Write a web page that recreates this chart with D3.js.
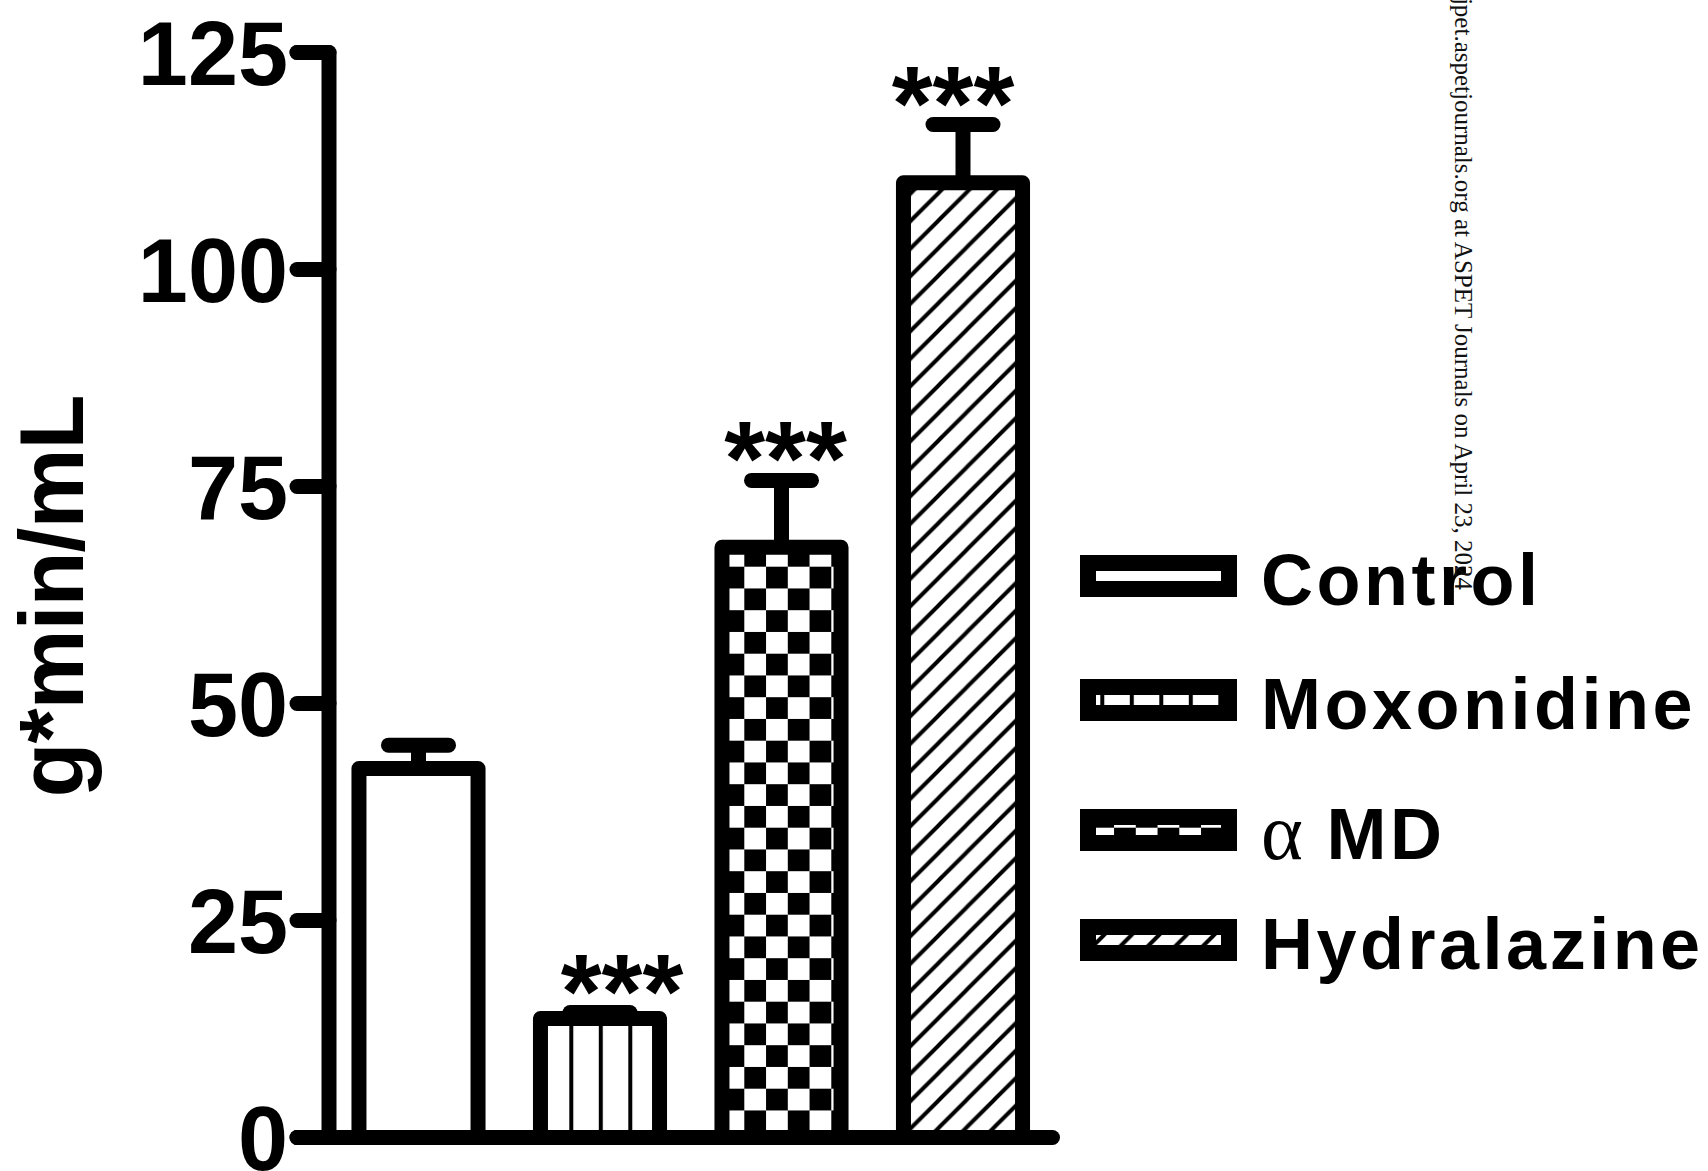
<!DOCTYPE html>
<html>
<head>
<meta charset="utf-8">
<script src="https://cdn.jsdelivr.net/npm/d3@7"></script>
<style>
  html, body { margin: 0; padding: 0; background: #fff; }
  svg { display: block; }
</style>
</head>
<body>
<svg id="chart" width="1708" height="1171"></svg>
<script>
// ---- data ----
const groups = ["Control", "Moxonidine", "α MD", "Hydralazine"];
const means = [42.5, 13.7, 68.0, 110.0];
const sems = [2.7, 0.7, 7.7, 6.7];
const sigLabels = ["", "***", "***", "***"];
const yTicks = [0, 25, 50, 75, 100, 125];
const yTitle = "g*min/mL";
const sourceNote = "jpet.aspetjournals.org at ASPET Journals on April 23, 2024";

// ---- layout / style ----
const W = 1708, H = 1171;
const SANS = "'Liberation Sans', Arial, Helvetica, sans-serif";
const SERIF = "'Liberation Serif', 'Times New Roman', serif";
const LW = 15;                                 // heavy outline weight
const fills = ["#fff", "url(#stripes)", "url(#checks)", "url(#hatch)"];
const starNudge = [0, 22, 4, -10];             // horizontal nudge of the *** marks
const legendRowY = [576, 700, 830, 940];       // legend row centres

const svg = d3.select("#chart");

// fill patterns
const defs = svg.append("defs");
const stripes = defs.append("pattern").attr("id", "stripes")
  .attr("patternUnits", "userSpaceOnUse")
  .attr("x", 598.8).attr("y", 0).attr("width", 29.5).attr("height", 10);
stripes.append("rect").attr("width", 29.5).attr("height", 10).attr("fill", "#fff");
stripes.append("rect").attr("x", 0).attr("width", 4).attr("height", 10).attr("fill", "#000");

const cell = 21.75;
const checks = defs.append("pattern").attr("id", "checks")
  .attr("patternUnits", "userSpaceOnUse")
  .attr("x", 744.3).attr("y", 566.7).attr("width", 2 * cell).attr("height", 2 * cell);
checks.append("rect").attr("width", 2 * cell).attr("height", 2 * cell).attr("fill", "#fff");
checks.append("rect").attr("x", cell).attr("y", 0).attr("width", cell).attr("height", cell).attr("fill", "#000");
checks.append("rect").attr("x", 0).attr("y", cell).attr("width", cell).attr("height", cell).attr("fill", "#000");

const hs = 27.5;
const hatch = defs.append("pattern").attr("id", "hatch")
  .attr("patternUnits", "userSpaceOnUse")
  .attr("x", 4).attr("y", 0).attr("width", hs).attr("height", hs);
hatch.append("rect").attr("width", hs).attr("height", hs).attr("fill", "#fff");
hatch.append("path")
  .attr("d", `M-3,${hs + 3}L${hs + 3},-3M-3,3L3,-3M${hs - 3},${hs + 3}L${hs + 3},${hs - 3}`)
  .attr("stroke", "#000").attr("stroke-width", 4).attr("fill", "none");

// scales
const y = d3.scaleLinear().domain([0, 125]).range([1137.5, 52.5]);
const x = d3.scaleBand().domain(groups).range([327.75, 1053.75])
  .paddingInner(0.344).paddingOuter(0.172);
const axisX = 329;

// bars
const bars = svg.append("g");
groups.forEach((g, i) => {
  bars.append("rect")
    .attr("x", x(g)).attr("width", x.bandwidth())
    .attr("y", y(means[i])).attr("height", y(0) - y(means[i]))
    .attr("fill", fills[i])
    .attr("stroke", "#000").attr("stroke-width", LW)
    .attr("stroke-linejoin", "round");
});

// error bars (mean + SEM)
const err = svg.append("g").attr("stroke", "#000").attr("stroke-width", LW);
groups.forEach((g, i) => {
  const cx = x(g) + x.bandwidth() / 2;
  const top = y(means[i] + sems[i]);
  err.append("line").attr("x1", cx).attr("x2", cx)
    .attr("y1", y(means[i])).attr("y2", top);
  err.append("line").attr("x1", cx - 30).attr("x2", cx + 30)
    .attr("y1", top).attr("y2", top).attr("stroke-linecap", "round");
});

// significance marks
groups.forEach((g, i) => {
  if (!sigLabels[i]) return;
  const cx = x(g) + x.bandwidth() / 2 + starNudge[i];
  svg.append("text")
    .attr("x", cx).attr("y", y(means[i] + sems[i]) + 15)
    .attr("text-anchor", "middle")
    .attr("font-family", SANS).attr("font-weight", "bold")
    .attr("font-size", 105).attr("letter-spacing", 0)
    .text(sigLabels[i]);
});

// y axis
const yAxis = d3.axisLeft(y).tickValues(yTicks).tickSize(32).tickSizeOuter(32)
  .tickPadding(9).offset(0);
const ax = svg.append("g").attr("transform", `translate(${axisX},0)`).call(yAxis);
ax.select(".domain")
  .attr("stroke", "#000").attr("stroke-width", LW)
  .attr("stroke-linejoin", "round").attr("stroke-linecap", "round");
ax.selectAll(".tick line")
  .attr("stroke", "#000").attr("stroke-width", LW).attr("stroke-linecap", "round");
ax.selectAll(".tick text")
  .attr("fill", "#000").attr("font-family", SANS).attr("font-weight", "bold")
  .attr("font-size", 90).attr("dy", "0.36em");
ax.attr("font-family", null).attr("font-size", null);

// baseline
svg.append("line")
  .attr("x1", axisX - 31.5).attr("x2", 1052.5)
  .attr("y1", y(0)).attr("y2", y(0))
  .attr("stroke", "#000").attr("stroke-width", LW).attr("stroke-linecap", "round");

// y title
svg.append("text")
  .attr("transform", `translate(83,596.5) rotate(-90)`)
  .attr("text-anchor", "middle")
  .attr("font-family", SANS).attr("font-weight", "bold").attr("font-size", 90)
  .attr("letter-spacing", -1)
  .text(yTitle);

// legend
const leg = svg.append("g");
groups.forEach((g, i) => {
  const cy = legendRowY[i];
  leg.append("rect")
    .attr("x", 1088).attr("y", cy - 13).attr("width", 141).attr("height", 26)
    .attr("fill", fills[i]).attr("stroke", "#000").attr("stroke-width", 16);
  const t = leg.append("text")
    .attr("x", 1261).attr("y", cy + 28.5)
    .attr("font-family", SANS).attr("font-weight", "bold")
    .attr("font-size", 72).attr("letter-spacing", 3.5);
  if (g.startsWith("α")) {
    t.append("tspan").attr("font-family", SERIF).attr("font-weight", "normal")
      .attr("font-size", 80).attr("letter-spacing", 0).text("α");
    t.append("tspan").text(g.slice(1));
  } else {
    t.text(g);
  }
});

// source note along the right side
svg.append("text")
  .attr("transform", "translate(1455,590) rotate(90)")
  .attr("text-anchor", "end")
  .attr("font-family", SERIF).attr("font-size", 25).attr("fill", "#111")
  .text(sourceNote);
</script>
</body>
</html>
